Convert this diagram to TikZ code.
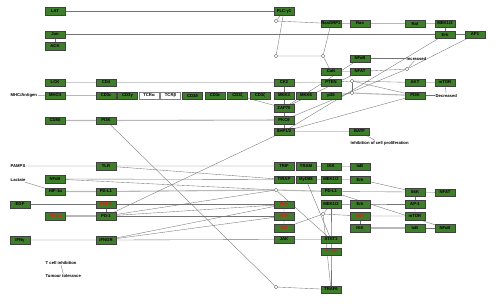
\documentclass[tikz,border=0pt]{standalone}
\usepackage{fontspec}
\setmainfont{Liberation Sans}
\usepackage{xcolor}
\usepackage{tikz}
\usetikzlibrary{shadows,backgrounds}
\definecolor{genegreen}{RGB}{62,125,42}
\definecolor{hitred}{RGB}{230,25,25}

\begin{document}
\begin{tikzpicture}[x=1pt, y=-1pt,
    gene/.style={draw=black!75, fill=genegreen, minimum width=20pt, minimum height=7.5pt, inner sep=0pt, font=\fontsize{4.2}{4.5}\selectfont\bfseries,
        drop shadow={shadow xshift=0.7pt, shadow yshift=-0.7pt, fill=black!35, opacity=1}},
    hit/.style={gene, text=hitred},
    blank/.style={gene, fill=white, draw=black!50},
    lbl/.style={font=\fontsize{4.2}{4.5}\selectfont\bfseries, inner sep=0.5pt, anchor=west},
    jn/.style={circle, draw=black!60, fill=white, inner sep=0pt, minimum size=3.6pt},
    rel/.style={draw=black!55, line width=0.35pt},
    brel/.style={draw=black!28, line width=1.1pt}
]
\useasboundingbox (0,0) rectangle (496,303);

% T cell receptor side
\node[gene] (LAT) at (55,11) {LAT};
\node[gene] (PLCg) at (284,11) {PLC-γ1};
\node[gene] (RasGRP1) at (331,23.5) {RasGRP1};
\node[gene] (Ras) at (360,23.5) {Ras};
\node[gene] (Raf) at (415,23.5) {Raf};
\node[gene] (MEK) at (445,23.5) {MEK1/2};
\node[gene] (Erk) at (445,34.5) {Erk};
\node[gene] (AP1) at (475,34.5) {AP1};
\node[gene] (Jun) at (55,34.5) {Jun};
\node[gene] (ACK) at (55,46) {ACK};
\node[gene] (NFkB) at (360,58.5) {NFκB};
\node[gene] (CaN) at (331,71.5) {CaN};
\node[gene] (NFAT) at (360,71.5) {NFAT};
\node[gene] (LCK) at (55,82.5) {LCK};
\node[gene] (CD4) at (106,82.5) {CD4};
\node[gene] (CK2) at (284,82.5) {CK2};
\node[gene] (PTEN) at (331,82.5) {PTEN};
\node[gene] (AKT) at (415,82.5) {AKT};
\node[gene] (mTOR) at (445,82.5) {mTOR};
\node[lbl] (mhc) at (10,95.5) {MHC/Antigen};
\node[gene] (MHCII) at (55,95.5) {MHCII};
\node[gene] (CD3e) at (106,95.5) {CD3ε};
\node[gene] (CD3g) at (127.5,95.5) {CD3γ};
\node[blank] (TCRa) at (149,95.5) {TCRα};
\node[blank] (TCRb) at (170.5,95.5) {TCRβ};
\node[gene] (CD3d) at (192.5,95.5) {CD3δ};
\node[gene] (CD3eb) at (215,95.5) {CD3ε};
\node[gene] (CD3z) at (237.5,95.5) {CD3ζ};
\node[gene] (CD3zb) at (260,95.5) {CD3ζ};
\node[gene] (MKK3) at (284,95.5) {MKK3};
\node[gene] (MKK6) at (306,95.5) {MKK6};
\node[gene] (p38) at (331,95.5) {p38};
\node[gene] (PI3K) at (415,95.5) {PI3K};
\node[gene] (ZAP70) at (284,108) {ZAP70};
\node[gene] (PKCt) at (284,120) {PKCθ};
\node[gene] (SHP) at (284,131.5) {SHP1/2};
\node[gene] (BATF) at (359.5,131.5) {BATF};
\node[gene] (CD80) at (55,120.5) {CD80};
\node[gene] (PI3Ka) at (106,120.5) {PI3K};
\node[lbl] (inc) at (406,58.5) {Increased};
\node[lbl] (dec) at (435,95.5) {Decreased};
\node[lbl] (prolif) at (350,143) {Inhibition of cell proliferation};

% tumour cell side
\node[lbl] (pamps) at (10,166) {PAMPS};
\node[lbl] (lactate) at (10,180) {Lactate};
\node[gene] (TLR) at (106,166) {TLR};
\node[gene] (TRIF) at (284,166) {TRIF};
\node[gene] (TRAM) at (306,166) {TRAM};
\node[gene] (IKK) at (331,166.5) {IKK};
\node[gene] (IkB) at (360,166.5) {IκB};
\node[gene] (NFkBa) at (55,179) {NFκB};
\node[gene] (TIRAP) at (284,179.5) {TIRAP};
\node[gene] (MyD88) at (306,179.5) {MyD88};
\node[gene] (MEKb) at (331,179.5) {MEK1/2};
\node[gene] (Erkb) at (360,179.5) {Erk};
\node[gene] (HIF) at (55.5,191.5) {HIF-1α};
\node[gene] (PDL1) at (106,191.5) {PD-L1};
\node[gene] (PDL1b) at (331,191.5) {PD-L1};
\node[gene] (S6K) at (415,192) {S6K};
\node[gene] (NFATb) at (445,192.5) {NFAT};
\node[gene] (EGF) at (20,204.5) {EGF};
\node[hit] (EGFR) at (106,204.5) {EGFR};
\node[hit] (Rasb) at (284,204.5) {Ras};
\node[gene] (MEKc) at (331,204) {MEK1/2};
\node[gene] (Erkc) at (360,204) {Erk};
\node[gene] (AP1b) at (415,204) {AP-1};
\node[hit] (PDL1r) at (55.5,216) {PD-L1};
\node[gene] (PD1) at (106,216) {PD-1};
\node[hit] (PI3Kb) at (284,216) {PI3K};
\node[hit] (AKTb) at (360,216) {AKT};
\node[gene] (mTORb) at (415,216) {mTOR};
\node[hit] (Rafb) at (284,228) {Raf};
\node[gene] (IKKb) at (360,228) {IKK};
\node[gene] (IkBb) at (415,228) {IκB};
\node[gene] (NFkBb) at (445,228) {NFκB};
\node[gene] (IFNg) at (20,240) {IFNγ};
\node[gene] (IFNGR) at (106,240) {IFNGR};
\node[gene] (JAK) at (284,239.5) {JAK};
\node[gene] (STAT) at (331,239.5) {STAT1};
\node[hit] (PTENb) at (331,251.5) {PTEN};
\node[gene] (TRAF6) at (331,289.5) {TRAF6};
\node[lbl] (tinh) at (45,263) {T cell inhibition};
\node[lbl] (ttol) at (45,276) {Tumour tolerance};

% junctions
\node[jn] (j1) at (276,21) {};
\node[jn] (j2) at (276,56) {};
\node[jn] (j3) at (323,56) {};
\node[jn] (j4) at (407,69) {};
\node[jn] (j5) at (352,81) {};
\node[jn] (j6) at (352,93) {};
\node[jn] (j7) at (276,190) {};
\node[jn] (j8) at (323,214) {};
\node[jn] (j9) at (276,287) {};

\begin{scope}[on background layer]
% relations, upper part
\draw[rel] (LAT.center) -- (PLCg.center);
\draw[rel] (PLCg.center) -- (j1) -- (RasGRP1.center);
\draw[rel] (PLCg.center) -- (j2) -- (j3) -- (CaN.center);
\draw[rel] (RasGRP1.center) -- (j3);
\draw[brel] (RasGRP1.center) -- (Ras.center) -- (Raf.center) -- (MEK.center);
\draw[rel] (MEK.center) -- (Erk.center) -- (AP1.center);
\draw[rel] (Jun.center) -- (Erk.center);
\draw[rel] (Jun.center) -- (ACK.center);
\draw[rel] (NFkB.center) -- (inc);
\draw[rel] (CaN.center) -- (NFAT.center) -- (j4) -- (inc);
\draw[rel] (AP1.center) -- (j4);
\draw[rel] (LCK.center) -- (CD4.center) -- (CK2.center) -- (PTEN.center) -- (j5) -- (AKT.center) -- (mTOR.center);
\draw[rel] (j5) -- (PI3K.center);
\draw[rel] (j5) -- (j6);
\draw[rel] (mTOR.center) -- (dec);
\draw[rel] (PI3K.center) -- (dec);
\draw[brel] (mhc) -- (MHCII.center) -- (CD3e.center);
\draw[brel] (p38.center) -- (j6) -- (PI3K.center);
\draw[rel] (CD3z.center) -- (ZAP70.center);
\draw[rel] (CK2.center) -- (SHP.center);
\draw[rel] (SHP.center) -- (Erk.center);
\draw[rel] (PKCt.center) -- (j4);
\draw[rel] (ZAP70.center) -- (NFAT.center);
\draw[rel] (NFkB.center) -- (ZAP70.center);
\draw[rel] (SHP.center) -- (PI3K.center);
\draw[rel] (SHP.center) -- (BATF.center) -- (prolif);
\draw[brel] (CD80.center) -- (PI3Ka.center) -- (PKCt.center);
\draw[rel] (PI3Ka.center) -- (j9) -- (TRAF6.center);

% relations, lower part
\draw[rel] (pamps) -- (TLR.center) -- (TRIF.center) -- (TRAM.center) -- (IKK.center) -- (IkB.center);
\draw[rel] (TLR.center) -- (TIRAP.center) -- (MyD88.center) -- (MEKb.center) -- (Erkb.center) -- (S6K.center);
\draw[rel] (NFkBa.center) -- (TIRAP.center);
\draw[rel] (NFkBa.center) -- (j7);
\draw[rel] (lactate) -- (HIF.center);
\draw[brel] (HIF.center) -- (PDL1.center) -- (j7) -- (PDL1b.center);
\draw[rel] (PDL1b.center) -- (S6K.center) -- (NFATb.center);
\draw[rel] (S6K.center) -- (AP1b.center);
\draw[rel] (PDL1b.center) -- (NFkBb.center);
\draw[rel] (j7) -- (STAT.center);
\draw[rel] (MyD88.center) -- (STAT.center);
\draw[rel] (EGF.center) -- (EGFR.center) -- (Rasb.center);
\draw[rel] (EGFR.center) -- (PD1.center);
\draw[brel] (PDL1r.center) -- (PD1.center);
\draw[rel] (PD1.center) -- (SHP.center);
\draw[rel] (PD1.center) -- (j7);
\draw[rel] (PD1.center) -- (Rasb.center);
\draw[rel] (PD1.center) -- (PI3Kb.center);
\draw[rel] (IFNg.center) -- (IFNGR.center) -- (JAK.center) -- (STAT.center);
\draw[rel] (IFNGR.center) -- (Rasb.center);
\draw[rel] (IFNGR.center) -- (PI3Kb.center);
\draw[rel] (Rasb.center) -- (PI3Kb.center) -- (Rafb.center) -- (j8) -- (MEKc.center);
\draw[rel] (MEKc.center) -- (Erkc.center) -- (AP1b.center);
\draw[rel] (MEKc.center) -- (STAT.center) -- (PTENb.center) -- (TRAF6.center);
\draw[rel] (j8) -- (AKTb.center) -- (mTORb.center) -- (AP1b.center);
\draw[rel] (j8) -- (TRAF6.center);
\draw[rel] (AKTb.center) -- (IKKb.center);
\draw[brel] (IKKb.center) -- (IkBb.center);
\draw[rel] (IkBb.center) -- (NFkBb.center);
\draw[rel] (tinh.south) -- (ttol.north);
\end{scope}
\end{tikzpicture}
\end{document}
